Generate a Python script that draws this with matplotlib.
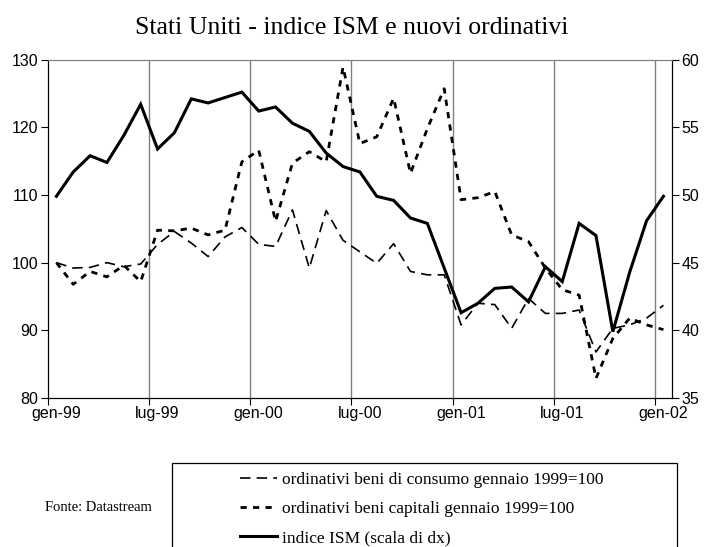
import matplotlib.pyplot as plt
from matplotlib.patches import Rectangle

plt.rcParams['lines.scale_dashes'] = False

# mesi da gen-99 a gen-02
mesi = ['gen-99', 'lug-99', 'gen-00', 'lug-00', 'gen-01', 'lug-01', 'gen-02']

# ordinativi beni di consumo (gennaio 1999 = 100)
consumo = [100.0, 99.2, 99.3, 100.0, 99.4, 99.8, 102.7, 104.6, 102.9, 100.9,
           103.8, 105.2, 102.7, 102.4, 107.8, 99.2, 107.7, 103.3, 101.6, 99.9,
           102.8, 98.7, 98.2, 98.2, 90.8, 94.0, 93.8, 90.3, 94.7, 92.5,
           92.5, 93.0, 86.8, 90.3, 90.8, 91.8, 93.7]

# ordinativi beni capitali (gennaio 1999 = 100)
capitali = [100.0, 96.8, 98.7, 97.9, 99.6, 97.2, 104.8, 104.7, 105.1, 104.1,
            104.8, 114.9, 116.6, 106.1, 114.7, 116.4, 114.9, 128.9, 117.6, 118.6,
            124.3, 113.2, 119.8, 125.7, 109.3, 109.6, 110.5, 104.1, 103.1, 99.2,
            96.0, 95.2, 82.9, 88.8, 91.8, 90.8, 90.1]

# indice ISM (scala di destra)
ism = [49.9, 51.7, 52.9, 52.4, 54.4, 56.7, 53.4, 54.6, 57.1, 56.8,
       57.2, 57.6, 56.2, 56.5, 55.3, 54.7, 53.1, 52.1, 51.7, 49.9,
       49.6, 48.3, 47.9, 44.6, 41.3, 42.0, 43.1, 43.2, 42.1, 44.7,
       43.6, 47.9, 47.0, 39.9, 44.3, 48.1, 49.9]

x = list(range(len(ism)))

fig = plt.figure(figsize=(7.05, 5.47), dpi=100)
ax = fig.add_axes([0.068, 0.2724, 0.885, 0.6186])
ax2 = ax.twinx()

l1, = ax.plot(x, consumo, color='black', lw=1.2, dashes=(7.5, 4.5),
              label='ordinativi beni di consumo gennaio 1999=100')
l2, = ax.plot(x, capitali, color='black', lw=2.0, dashes=(4.5, 4.5),
              label='ordinativi beni capitali gennaio 1999=100')
l3, = ax2.plot(x, ism, color='black', lw=2.2, solid_joinstyle='miter',
               label='indice ISM (scala di dx)')

ax.set_xlim(-0.5, len(x) - 0.5)
ax.set_ylim(80, 130)
ax2.set_ylim(35, 60)
ax.set_yticks(range(80, 131, 10))
ax2.set_yticks(range(35, 61, 5))

# griglia verticale ai confini dei semestri
bordi = [i - 0.5 for i in range(0, len(x) + 1, 6)]
ax.set_xticks(bordi)
ax.set_xticklabels([])
for b in bordi[1:]:
    ax.axvline(b, color='#808080', lw=1.0, zorder=0)
ax.set_xticks(range(0, len(x), 6), minor=True)
ax.set_xticklabels(mesi, minor=True)
ax.tick_params(axis='x', which='minor', length=0, pad=6, labelsize=11.5)
ax.tick_params(axis='x', which='major', length=5, direction='out')
ax.tick_params(axis='y', length=5, direction='out', labelsize=11.5, pad=2)
ax2.tick_params(axis='y', length=5, direction='out', labelsize=11.5, pad=2)

for a in (ax, ax2):
    a.spines['top'].set_color('#808080')
    a.spines['left'].set_color('black')
    a.spines['right'].set_color('black')
    a.spines['bottom'].set_color('black')

for lab in ax.get_xticklabels(minor=True) + ax.get_yticklabels() + ax2.get_yticklabels():
    lab.set_fontfamily('Liberation Sans')

fig.text(0.4986, 0.948, 'Stati Uniti - indice ISM e nuovi ordinativi',
         ha='center', va='center', fontsize=18.5, family='Liberation Serif')

fig.text(0.139, 0.072, 'Fonte: Datastream', ha='center', va='center',
         fontsize=10.5, family='Liberation Serif')

fig.patches.append(Rectangle((0.244, -0.02), 0.716, 0.1736, transform=fig.transFigure,
                             fill=False, edgecolor='black', lw=0.9))

fig.legend(handles=[l1, l2, l3], loc='upper left', bbox_to_anchor=(0.341, 0.137),
           frameon=False, borderpad=0, borderaxespad=0, handlelength=2.1,
           handletextpad=0.3, labelspacing=0.74,
           prop={'family': 'Liberation Serif', 'size': 12.5})

fig.savefig('out.png', dpi=100)
